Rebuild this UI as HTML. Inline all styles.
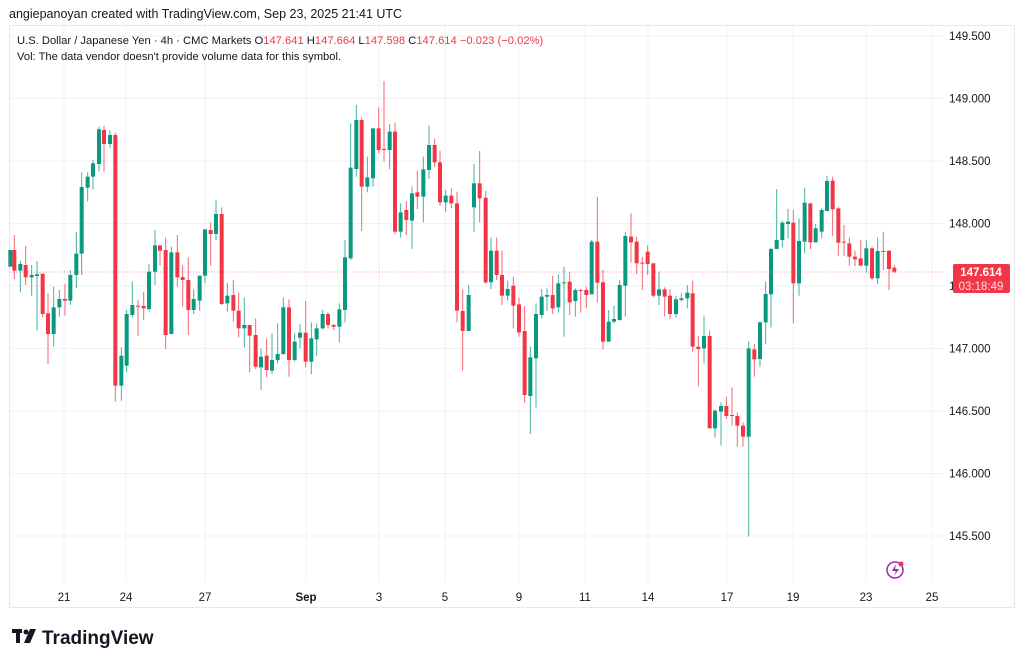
<!DOCTYPE html>
<html><head><meta charset="utf-8"><style>
body{margin:0;background:#fff;width:1024px;height:665px;overflow:hidden;font-family:"Liberation Sans",sans-serif;}
svg{position:absolute;left:0;top:0}
</style></head><body>
<svg id="s" width="1024" height="665" xmlns="http://www.w3.org/2000/svg">
<rect x="0" y="0" width="1024" height="665" fill="#fff"/>
<rect x="9.5" y="25.5" width="1005" height="582" fill="#fff" stroke="#e8e8ec"/>
<g id="grid" stroke="#f2f2f4" stroke-width="1"></g>
<text x="9" y="18" font-size="12.5" fill="#131722">angiepanoyan created with TradingView.com, Sep 23, 2025 21:41 UTC</text>
<text x="17" y="44" font-size="11.2" fill="#131722">U.S. Dollar / Japanese Yen · 4h · CMC Markets  O<tspan fill="#f23645">147.641</tspan>  H<tspan fill="#f23645">147.664</tspan>  L<tspan fill="#f23645">147.598</tspan>  C<tspan fill="#f23645">147.614</tspan>  <tspan fill="#f23645">−0.023 (−0.02%)</tspan></text>
<text x="17" y="60" font-size="11.2" fill="#131722">Vol: The data vendor doesn't provide volume data for this symbol.</text>
<g id="c"></g>
<line x1="10" y1="272" x2="944" y2="272" stroke="#f23645" stroke-dasharray="1,2" opacity="0.6"/>
<g id="ax" font-size="11.5" fill="#131722"></g>
<rect x="953" y="264" width="57" height="29" rx="2" fill="#f23645"/>
<text x="981" y="276" font-size="11.5" fill="#fff" text-anchor="middle" font-weight="bold">147.614</text>
<text x="981" y="290" font-size="11.5" fill="#fde0e3" text-anchor="middle">03:18:49</text>
<circle cx="895" cy="570" r="8" fill="none" stroke="#9c27b0" stroke-width="1.5"/>
<path d="M896 564 L892 571 L896 571 L894 576 L899 569 L895 569 Z" fill="#9c27b0"/>
<circle cx="901" cy="564" r="2.5" fill="#f23645"/>
<g fill="#131722">
<rect x="12" y="629" width="10" height="4"/><rect x="16" y="629" width="4" height="14"/>
<circle cx="26" cy="632" r="2.5"/><path d="M30 629 L36 629 L30 643 L24 643 Z"/>
</g>
<text x="42" y="644" font-size="19" font-weight="bold" fill="#131722">TradingView</text>
</svg>
<script>
const NS="http://www.w3.org/2000/svg";
const g=document.getElementById('c'),grid=document.getElementById('grid'),ax=document.getElementById('ax');
function el(p,t,a){const e=document.createElementNS(NS,t);for(const k in a)e.setAttribute(k,a[k]);p.appendChild(e);return e;}
for(let i=0;i<9;i++){const y=36+i*62.5;el(grid,'line',{x1:10,x2:944,y1:y,y2:y});
 const t=el(ax,'text',{x:949,y:y+4});t.textContent=(149.5-i*0.5).toFixed(3);}
const dates=[[64,'21'],[126,'24'],[205,'27'],[306,'Sep'],[379,'3'],[445,'5'],[519,'9'],[585,'11'],[648,'14'],[727,'17'],[793,'19'],[866,'23'],[932,'25']];
for(const [x,l] of dates){el(grid,'line',{x1:x,x2:x,y1:26,y2:582});const t=el(ax,'text',{x:x,y:601,'text-anchor':'middle'});t.textContent=l;if(l=='Sep')t.setAttribute('font-weight','bold');}
const z1=[[31,570,620,570,620,'g'],[43,570,632,525,657,'r'],[61,612,632,603,697,'g'],[77,615,652,558,675,'r'],[95,645,652,615,707,'g'],[111,643,648,603,812,'g'],[128,641,762,641,772,'r'],[144,760,822,700,912,'r'],[161,742,822,680,860,'g'],[178,717,742,690,770,'g'],[195,717,722,672,767,'r'],[211,645,722,630,735,'g'],[229,581,645,515,685,'g'],[245,381,581,337,645,'g'],[263,350,383,337,424,'g'],[279,310,350,300,388,'g'],[297,208,312,200,335,'g'],[312,210,252,197,335,'r'],[330,225,252,212,265,'g'],[346,225,977,218,1025,'r'],[364,887,977,862,1022,'g'],[380,762,917,750,937,'g'],[397,735,765,665,772,'g'],[414,737,740,720,827,'r'],[431,738,745,695,780,'r'],[447,635,747,612,755,'g'],[465,556,635,510,675,'g'],[480,556,572,556,617,'r'],[497,570,825,532,867,'r'],[514,577,822,560,822,'g'],[532,577,652,525,680,'r'],[548,651,660,615,740,'r'],[565,660,750,592,825,'r'],[581,717,750,688,762,'g'],[599,647,722,647,752,'g'],[615,508,647,508,670,'g'],[632,510,522,487,617,'r'],[648,462,522,420,540,'g'],[665,462,732,442,735,'r'],[682,707,730,668,755,'g']];
const z2=[[10,705,752,660,785,'r'],[26,752,805,697,832,'r'],[43,795,805,713,862,'g'],[59,795,827,795,937,'r'],[77,825,920,775,927,'r'],[93,890,922,865,990,'g'],[110,887,930,835,952,'r'],[126,900,932,820,942,'g'],[143,882,900,790,910,'g'],[160,742,882,712,885,'g'],[177,742,900,718,950,'r'],[194,845,900,820,905,'g'],[210,818,833,793,865,'g'],[227,818,905,723,922,'r'],[244,835,905,787,942,'g'],[260,805,838,790,887,'g'],[278,762,805,750,808,'g'],[294,762,795,757,805,'r'],[311,795,800,792,810,'r'],[328,748,800,730,847,'g'],[345,592,750,540,787,'g'],[362,323,595,190,600,'g'],[379,180,327,135,350,'g'],[395,180,380,172,513,'r'],[412,352,380,290,397,'g'],[429,205,355,205,380,'g'],[446,205,270,142,280,'r'],[462,267,270,63,305,'r'],[479,215,270,192,328,'g'],[495,215,515,188,522,'r'],[512,457,515,430,533,'g'],[529,450,480,423,525,'r'],[546,400,482,380,567,'g'],[562,397,410,332,447,'r'],[580,328,410,290,487,'g'],[597,255,330,197,357,'g'],[614,255,307,235,322,'r'],[630,307,427,272,437,'r'],[647,407,427,390,457,'g'],[664,407,430,385,445,'r'],[681,430,752,395,787,'r']];
const z3=[[8,573,633,508,752,'r'],[26,525,633,495,633,'g'],[42,190,262,132,335,'g'],[59,190,235,93,307,'r'],[77,233,487,213,492,'r'],[93,392,487,353,507,'g'],[110,392,465,353,480,'r'],[126,465,527,392,555,'r'],[143,507,527,482,542,'g'],[160,497,557,470,625,'r'],[177,553,637,533,650,'r'],[194,633,825,558,848,'r'],[211,712,828,680,942,'g'],[228,582,715,550,862,'g'],[245,530,585,507,595,'g'],[261,525,530,505,572,'g'],[278,525,565,468,582,'r'],[295,490,562,463,578,'g'],[312,487,490,440,650,'g'],[329,485,547,457,585,'r'],[346,510,543,505,590,'g'],[362,510,512,507,578,'r'],[379,510,525,500,565,'r'],[395,365,523,360,523,'g'],[412,365,488,230,548,'r'],[429,487,665,450,688,'r'],[446,605,665,570,665,'g'],[462,597,605,557,610,'g'],[479,495,600,480,602,'g'],[496,348,497,335,590,'g'],[513,350,367,280,428,'r'],[530,365,430,350,462,'r'],[547,428,430,410,510,'r'],[563,395,432,375,465,'r'],[580,430,527,430,532,'r'],[597,508,527,455,555,'g'],[614,508,530,502,590,'r'],[630,527,582,507,597,'r'],[648,538,582,527,592,'g'],[664,535,540,520,545,'g']];
const z4=[[22,398,415,375,445,'g'],[38,400,560,362,575,'r'],[55,560,567,528,680,'r'],[72,528,565,467,610,'g'],[89,528,805,512,805,'r'],[105,752,805,748,833,'g'],[123,738,755,727,857,'g'],[139,738,768,710,777,'r'],[156,765,768,682,797,'r'],[172,768,797,758,860,'r'],[189,797,830,787,860,'r'],[206,565,830,545,1130,'g'],[223,568,598,552,650,'r'],[240,487,597,485,620,'g'],[257,402,487,365,553,'g'],[273,267,403,263,502,'g'],[290,240,267,87,267,'g'],[307,188,240,182,262,'g'],[324,185,192,147,235,'g'],[340,188,370,150,490,'r'],[357,243,370,175,407,'g'],[374,128,245,83,280,'g'],[391,130,247,130,267,'r'],[407,205,247,192,247,'g'],[425,150,215,145,235,'g'],[441,63,153,47,153,'g'],[458,62,148,50,228,'r'],[475,145,248,140,287,'r'],[492,245,248,195,288,'r'],[508,250,290,232,317,'r'],[525,290,298,272,318,'r'],[542,295,317,240,317,'r'],[559,265,317,240,337,'g'],[576,265,355,260,360,'r'],[593,273,355,232,372,'g'],[610,273,275,215,330,'r'],[627,272,327,272,390,'r'],[643,323,335,315,340,'r']];
function draw(arr,ox,oy){for(const [zx,bt,bb,wt,wb,c] of arr){
 const x=ox+zx/3,col=c=='g'?'#089981':'#f23645';
 el(g,'line',{x1:x,x2:x,y1:oy+wt/3,y2:oy+wb/3,stroke:col,'stroke-width':1,opacity:0.75});
 const t=oy+bt/3,b=oy+bb/3;el(g,'rect',{x:x-2,y:t,width:4,height:Math.max(1,b-t),fill:col});}}
draw(z1,0,60);draw(z2,230,60);draw(z3,460,120);draw(z4,680,160);
</script>
</body></html>
